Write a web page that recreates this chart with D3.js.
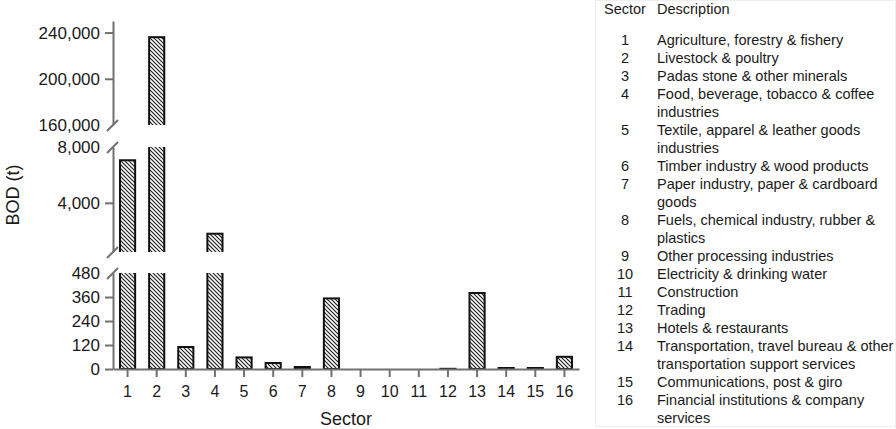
<!DOCTYPE html>
<html>
<head>
<meta charset="utf-8">
<script src="https://cdn.jsdelivr.net/npm/d3@7"></script>
<style>
    body { margin: 0; background: #fff; }
    svg { display: block; font-family: "Liberation Sans", Arial, sans-serif; }
    .axis path, .axis line { stroke: #707070; stroke-width: 2px; }
    .axis text { fill: #1a1a1a; }
</style>
</head>
<body>
<div id="vis"></div>
<script>
// data
const sectors = [1, 2, 3, 4, 5, 6, 7, 8, 9, 10, 11, 12, 13, 14, 15, 16];
const bod = [7050, 236000, 110, 1790, 58, 30, 10, 353, 0, 0, 0, 1, 380, 5, 5, 61];
const descriptions = [
    "Agriculture, forestry & fishery",
    "Livestock & poultry",
    "Padas stone & other minerals",
    "Food, beverage, tobacco & coffee industries",
    "Textile, apparel & leather goods industries",
    "Timber industry & wood products",
    "Paper industry, paper & cardboard goods",
    "Fuels, chemical industry, rubber & plastics",
    "Other processing industries",
    "Electricity & drinking water",
    "Construction",
    "Trading",
    "Hotels & restaurants",
    "Transportation, travel bureau & other transportation support services",
    "Communications, post & giro",
    "Financial institutions & company services"
];
const topTicks = [160000, 200000, 240000];
const midTicks = [4000, 8000];
const lowTicks = [0, 120, 240, 360, 480];

const width = 896;
const height = 429;
const axisX = 113;

const data = sectors.map((s, i) => ({ sector: s, value: bod[i] }));

const svg = d3.select("#vis")
    .append("svg")
    .attr("width", width)
    .attr("height", height)
    .attr("viewBox", `0 0 ${width} ${height}`);

const defs = svg.append("defs");
defs.append("pattern")
    .attr("id", "hatch")
    .attr("patternUnits", "userSpaceOnUse")
    .attr("width", 4)
    .attr("height", 4)
    .call(p => p.append("rect").attr("width", 4).attr("height", 4).attr("fill", "#fff"))
    .append("path")
        .attr("d", "M-1,-1L5,5M-1,3L1,5M3,-1L5,1")
        .attr("stroke", "#222")
        .attr("stroke-width", 1.2);

const xScale = d3.scaleBand()
    .domain(sectors)
    .range([axisX, 579])
    .paddingInner(0.48)
    .paddingOuter(0.24);

// three stacked pieces of the broken y axis
const segments = [
    { id: "top", ticks: topTicks, breaks: [160000],
      y: d3.scaleLinear().domain([160000, 250000]).range([125, 21]) },
    { id: "mid", ticks: midTicks, breaks: [480, 8000],
      y: d3.scaleLinear().domain([480, 8000]).range([252, 147]) },
    { id: "low", ticks: lowTicks, breaks: [480],
      y: d3.scaleLinear().domain([0, 480]).range([369, 273]) }
];

segments.forEach(seg => {
    const [y0, y1] = seg.y.range();

    defs.append("clipPath")
        .attr("id", `clip-${seg.id}`)
        .append("rect")
            .attr("x", 100)
            .attr("y", y1)
            .attr("width", 500)
            .attr("height", y0 - y1 + (seg.id === "low" ? 2 : 0));

    svg.append("g")
        .attr("clip-path", `url(#clip-${seg.id})`)
        .selectAll("rect")
        .data(data.filter(d => d.value > 0 && (seg.id === "low" || d.value > seg.y.domain()[0])))
        .join("rect")
            .attr("x", d => xScale(d.sector))
            .attr("width", xScale.bandwidth())
            .attr("y", d => seg.y(d.value))
            .attr("height", d => seg.y(0) - seg.y(d.value))
            .attr("fill", "url(#hatch)")
            .attr("stroke", "#111")
            .attr("stroke-width", 2);

    const axis = svg.append("g")
        .attr("class", "axis")
        .attr("transform", `translate(${axisX},0)`)
        .call(d3.axisLeft(seg.y)
            .tickValues(seg.ticks)
            .tickSize(8)
            .tickPadding(5)
            .tickSizeOuter(0)
            .tickFormat(d3.format(",")));

    axis.selectAll(".tick text").style("font-size", "17px");
    axis.selectAll(".tick")
        .filter(d => seg.breaks.includes(d))
        .select("line").remove();

    // break marks
    svg.selectAll(`.break-${seg.id}`)
        .data(seg.breaks)
        .join("line")
            .attr("class", `break-${seg.id}`)
            .attr("stroke", "#707070")
            .attr("stroke-width", 2)
            .attr("x1", axisX - 6)
            .attr("x2", axisX + 5)
            .attr("y1", d => seg.y(d) + 6)
            .attr("y2", d => seg.y(d) - 5);
});

const xAxis = svg.append("g")
    .attr("class", "axis")
    .attr("transform", `translate(0,${segments[2].y(0)})`)
    .call(d3.axisBottom(xScale).tickSize(8).tickPadding(9).tickSizeOuter(0));
xAxis.selectAll(".tick text").style("font-size", "16px");

svg.append("text")
    .attr("x", (axisX + 579) / 2)
    .attr("y", 425)
    .attr("text-anchor", "middle")
    .style("font-size", "18px")
    .attr("fill", "#1a1a1a")
    .text("Sector");

svg.append("text")
    .attr("transform", "translate(19,195) rotate(-90)")
    .attr("text-anchor", "middle")
    .style("font-size", "18px")
    .attr("fill", "#1a1a1a")
    .text("BOD (t)");

// legend table
const legend = svg.append("g").attr("class", "legend");
legend.append("rect")
    .attr("x", 595.5)
    .attr("y", 0.5)
    .attr("width", 300)
    .attr("height", 426)
    .attr("fill", "none")
    .attr("stroke", "#efefef");

const numX = 625;
const descX = 657;
const lineH = 18;
const maxW = 252;

legend.append("text")
    .attr("x", 604).attr("y", 14)
    .style("font-size", "14.5px").attr("fill", "#1a1a1a")
    .text("Sector");
legend.append("text")
    .attr("x", descX).attr("y", 14)
    .style("font-size", "14.5px").attr("fill", "#1a1a1a")
    .text("Description");

let row = 0;
sectors.forEach((s, i) => {
    const yy = 45 + row * lineH;
    legend.append("text")
        .attr("x", numX).attr("y", yy)
        .attr("text-anchor", "middle")
        .style("font-size", "14.5px").attr("fill", "#1a1a1a")
        .text(s);

    const t = legend.append("text")
        .attr("x", descX).attr("y", yy)
        .style("font-size", "14.5px").attr("fill", "#1a1a1a");
    const words = descriptions[i].split(" ");
    let line = [];
    let tspan = t.append("tspan").attr("x", descX).attr("dy", 0);
    words.forEach(w => {
        line.push(w);
        tspan.text(line.join(" "));
        if (tspan.node().getComputedTextLength() > maxW && line.length > 1) {
            line.pop();
            tspan.text(line.join(" "));
            line = [w];
            tspan = t.append("tspan").attr("x", descX).attr("dy", lineH).text(w);
            row++;
        }
    });
    row++;
});
</script>
</body>
</html>
